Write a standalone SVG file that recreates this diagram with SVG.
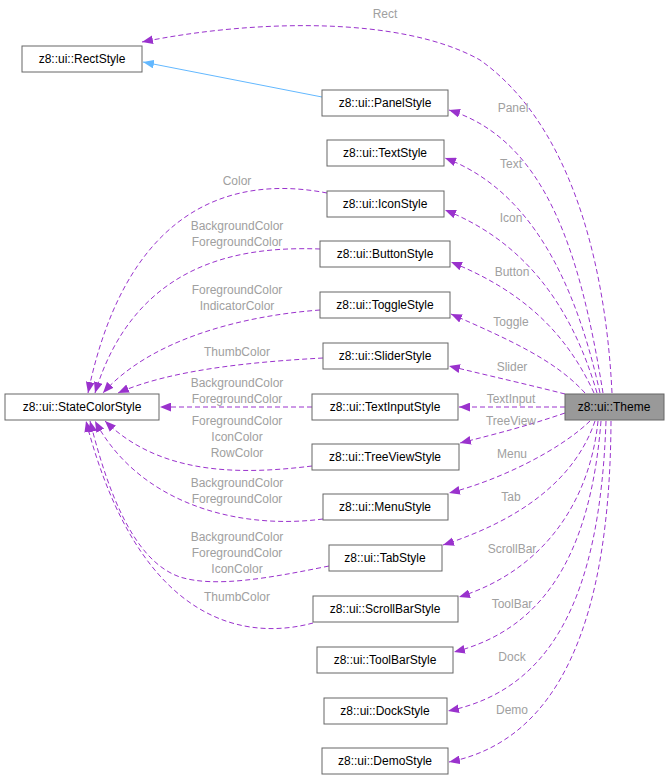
<svg xmlns="http://www.w3.org/2000/svg" width="670" height="780" viewBox="0 0 670 780">
<style>
.n rect{fill:#fff;stroke:#666;stroke-width:1}
.n text,.l{font-family:"Liberation Sans",Arial,sans-serif;font-size:12px;text-anchor:middle}
.n text{fill:#000}
.l{fill:#a0a0a0}
.e{fill:none;stroke:#9a32cd;stroke-dasharray:5,3;stroke-width:1}
</style>
<defs>
<marker id="a" viewBox="0 0 10 8" refX="10" refY="4" markerWidth="11" markerHeight="9" markerUnits="userSpaceOnUse" orient="auto"><path d="M0,0L10,4L0,8z" fill="#9a32cd"/></marker>
<marker id="b" viewBox="0 0 10 8" refX="10" refY="4" markerWidth="11" markerHeight="9" markerUnits="userSpaceOnUse" orient="auto"><path d="M0,0L10,4L0,8z" fill="#63b8ff"/></marker>
</defs>
<rect width="670" height="780" fill="#fff"/>
<g id="edges">
<path d="M322,97 L143,62" fill="none" stroke="#63b8ff" marker-end="url(#b)"/>
<path class="e" marker-end="url(#a)" d="M612,393 C605,250 565,120 480,60 C400,15 250,20 142,42"/>
<path class="e" marker-end="url(#a)" d="M603,393 C580,250 545,140 449,110"/>
<path class="e" marker-end="url(#a)" d="M600,393 C575,280 530,190 445,158"/>
<path class="e" marker-end="url(#a)" d="M597,393 C570,300 520,240 445,210"/>
<path class="e" marker-end="url(#a)" d="M594,393 C565,330 520,290 451,262"/>
<path class="e" marker-end="url(#a)" d="M585,393 C555,360 510,340 451,314"/>
<path class="e" marker-end="url(#a)" d="M565,394 C530,385 490,376 449,366"/>
<path class="e" marker-end="url(#a)" d="M565,407 L459,407"/>
<path class="e" marker-end="url(#a)" d="M565,413 C530,425 500,433 460,443"/>
<path class="e" marker-end="url(#a)" d="M590,421 C560,450 500,480 449,493"/>
<path class="e" marker-end="url(#a)" d="M595,421 C575,480 520,520 443,545"/>
<path class="e" marker-end="url(#a)" d="M598,421 C590,500 545,570 459,597"/>
<path class="e" marker-end="url(#a)" d="M601,421 C590,560 540,630 454,652"/>
<path class="e" marker-end="url(#a)" d="M606,421 C600,600 550,690 448,711"/>
<path class="e" marker-end="url(#a)" d="M611,421 C610,620 560,740 449,762"/>
<path class="e" marker-end="url(#a)" d="M327,193 C250,178 130,190 88,393"/>
<path class="e" marker-end="url(#a)" d="M320,249 C240,246 135,262 95,393"/>
<path class="e" marker-end="url(#a)" d="M320,310 C240,316 150,340 103,393"/>
<path class="e" marker-end="url(#a)" d="M323,358 C250,362 170,370 118,393"/>
<path class="e" marker-end="url(#a)" d="M312,407 L160,407"/>
<path class="e" marker-end="url(#a)" d="M312,466 C240,475 160,475 105,421"/>
<path class="e" marker-end="url(#a)" d="M323,519 C240,530 140,505 95,421"/>
<path class="e" marker-end="url(#a)" d="M329,566 C270,578 215,588 180,577 C130,560 105,480 90,421"/>
<path class="e" marker-end="url(#a)" d="M313,623 C250,640 140,630 86,421"/>
</g>
<g id="labels">
<text class="l" x="385" y="18">Rect</text>
<text class="l" x="513" y="112">Panel</text>
<text class="l" x="511" y="168">Text</text>
<text class="l" x="511" y="222">Icon</text>
<text class="l" x="512" y="276">Button</text>
<text class="l" x="511" y="326">Toggle</text>
<text class="l" x="512" y="371">Slider</text>
<text class="l" x="511" y="403">TextInput</text>
<text class="l" x="511" y="425">TreeView</text>
<text class="l" x="512" y="458">Menu</text>
<text class="l" x="511" y="501">Tab</text>
<text class="l" x="512" y="553">ScrollBar</text>
<text class="l" x="512" y="608">ToolBar</text>
<text class="l" x="512" y="661">Dock</text>
<text class="l" x="512" y="714">Demo</text>
<text class="l" x="237" y="185">Color</text>
<text class="l" x="237" y="230">BackgroundColor</text>
<text class="l" x="237" y="246">ForegroundColor</text>
<text class="l" x="237" y="294">ForegroundColor</text>
<text class="l" x="237" y="310">IndicatorColor</text>
<text class="l" x="237" y="356">ThumbColor</text>
<text class="l" x="237" y="387">BackgroundColor</text>
<text class="l" x="237" y="403">ForegroundColor</text>
<text class="l" x="237" y="425">ForegroundColor</text>
<text class="l" x="237" y="441">IconColor</text>
<text class="l" x="237" y="457">RowColor</text>
<text class="l" x="237" y="487">BackgroundColor</text>
<text class="l" x="237" y="503">ForegroundColor</text>
<text class="l" x="237" y="541">BackgroundColor</text>
<text class="l" x="237" y="557">ForegroundColor</text>
<text class="l" x="237" y="573">IconColor</text>
<text class="l" x="237" y="601">ThumbColor</text>
</g>
<g id="RectStyle" class="n"><rect x="22" y="46" width="120" height="26"/><text x="82" y="63">z8::ui::RectStyle</text></g>
<g id="PanelStyle" class="n"><rect x="322" y="90" width="126" height="26"/><text x="385" y="107">z8::ui::PanelStyle</text></g>
<g id="TextStyle" class="n"><rect x="327" y="140" width="117" height="26"/><text x="385" y="157">z8::ui::TextStyle</text></g>
<g id="IconStyle" class="n"><rect x="327" y="191" width="117" height="26"/><text x="385" y="208">z8::ui::IconStyle</text></g>
<g id="ButtonStyle" class="n"><rect x="320" y="241" width="130" height="26"/><text x="385" y="258">z8::ui::ButtonStyle</text></g>
<g id="ToggleStyle" class="n"><rect x="320" y="292" width="130" height="26"/><text x="385" y="309">z8::ui::ToggleStyle</text></g>
<g id="SliderStyle" class="n"><rect x="323" y="343" width="125" height="26"/><text x="385" y="360">z8::ui::SliderStyle</text></g>
<g id="StateColorStyle" class="n"><rect x="5" y="394" width="154" height="26"/><text x="82" y="411">z8::ui::StateColorStyle</text></g>
<g id="TextInputStyle" class="n"><rect x="312" y="394" width="146" height="26"/><text x="385" y="411">z8::ui::TextInputStyle</text></g>
<g id="Theme" class="n"><rect x="565" y="394" width="99" height="26" style="fill:#999"/><text x="614" y="411">z8::ui::Theme</text></g>
<g id="TreeViewStyle" class="n"><rect x="312" y="444" width="147" height="26"/><text x="385" y="461">z8::ui::TreeViewStyle</text></g>
<g id="MenuStyle" class="n"><rect x="323" y="494" width="125" height="26"/><text x="385" y="511">z8::ui::MenuStyle</text></g>
<g id="TabStyle" class="n"><rect x="329" y="545" width="113" height="26"/><text x="385" y="562">z8::ui::TabStyle</text></g>
<g id="ScrollBarStyle" class="n"><rect x="313" y="596" width="145" height="26"/><text x="385" y="613">z8::ui::ScrollBarStyle</text></g>
<g id="ToolBarStyle" class="n"><rect x="317" y="647" width="136" height="26"/><text x="385" y="664">z8::ui::ToolBarStyle</text></g>
<g id="DockStyle" class="n"><rect x="324" y="698" width="123" height="26"/><text x="385" y="715">z8::ui::DockStyle</text></g>
<g id="DemoStyle" class="n"><rect x="322" y="748" width="126" height="26"/><text x="385" y="765">z8::ui::DemoStyle</text></g>
</svg>
